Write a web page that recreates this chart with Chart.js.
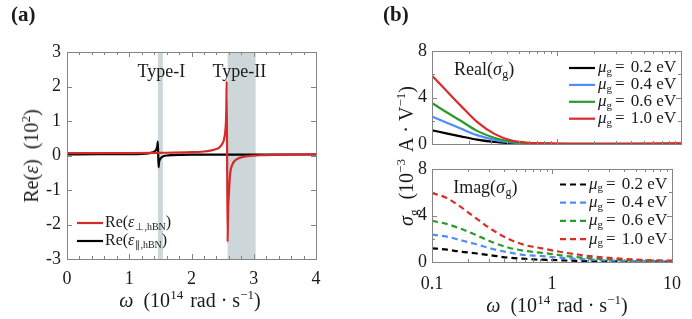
<!DOCTYPE html>
<html>
<head>
<meta charset="utf-8">
<script src="https://cdn.jsdelivr.net/npm/chart.js@4.4.0/dist/chart.umd.min.js"></script>
<style>
  body { margin: 0; background: #fff; }
  #wrap { position: relative; width: 692px; height: 319px; font-family: 'Liberation Serif', serif; color: #1a1a1a; }
  canvas { position: absolute; }
  .t { position: absolute; white-space: nowrap; font-size: 20px; line-height: 1; transform: translate(-50%, -50%); }
  .rot { transform: translate(-50%, -50%) rotate(-90deg); }
  .t sup { font-size: 13px; vertical-align: 8px; line-height: 0; }
  .t sub { font-size: 13px; vertical-align: -5px; line-height: 0; }
  .t .g1 { margin-left: 10px; }
  .t .g2 { margin-left: 7px; }
  .t .g3 { margin: 0 5px; }
  .panel { position: absolute; font-weight: bold; font-size: 21px; line-height: 1; }
</style>
</head>
<body>
<div id="wrap">
  <canvas id="chartA" width="346" height="319" style="left:0;top:0"></canvas>
  <canvas id="chartB1" width="346" height="160" style="left:346px;top:0"></canvas>
  <canvas id="chartB2" width="346" height="169" style="left:346px;top:150px"></canvas>

  <div class="panel" style="left:11px;top:4px">(a)</div>
  <div class="panel" style="left:383px;top:4px">(b)</div>
  <div class="t" style="left:190px;top:300px"><i>ω</i><span class="g1">(10<sup>14</sup></span><span class="g2">rad</span><span class="g3">·</span>s<sup>−1</sup>)</div>
  <div class="t rot" style="left:31px;top:156px">Re(<i>ε</i>)<span class="g1">(10<sup>2</sup>)</span></div>
  <div class="t" style="left:557px;top:305px"><i>ω</i><span class="g1">(10<sup>14</sup></span><span class="g2">rad</span><span class="g3">·</span>s<sup>−1</sup>)</div>
  <div class="t rot" style="left:406px;top:156px"><i>σ</i><sub>g</sub><span class="g1">(10<sup>−3</sup></span><span class="g2">A</span><span class="g3">·</span>V<sup>−1</sup>)</div>
</div>

<script>
// ---- panel (a): Re(eps) of hBN, in units of 10^2 ----
var omegaPerp = [0, 0.5, 1, 1.5, 2, 2.2, 2.3, 2.4, 2.45, 2.5, 2.52, 2.54, 2.55, 2.555, 2.56, 2.565,
                 2.58, 2.585, 2.59, 2.6, 2.62, 2.65, 2.7, 2.75, 2.8, 2.9, 3.0, 3.1, 3.3, 3.5, 4];
var epsPerp = [0.067, 0.068, 0.070, 0.077, 0.095, 0.116, 0.139, 0.186, 0.237, 0.352, 0.451, 0.650, 0.85, 1.05, 1.4, 2.15,
               -2.5, -1.9, -1.5, -1.13, -0.542, -0.287, -0.145, -0.087, -0.055, -0.021, -0.004, 0.007, 0.020, 0.027, 0.036];
var omegaPar = [0, 0.5, 1, 1.2, 1.3, 1.35, 1.4, 1.43, 1.45, 1.46, 1.47, 1.48, 1.5, 1.53, 1.56, 1.6, 1.7, 1.8, 2, 2.5, 3, 4];
var epsPar = [0.035, 0.036, 0.040, 0.047, 0.059, 0.077, 0.11, 0.16, 0.26, 0.40, -0.34, -0.18, -0.092, -0.04, -0.015, 0.0,
              0.012, 0.018, 0.023, 0.027, 0.028, 0.029];
var bands = [[1.46, 1.54], [2.58, 3.03]];
var bandNames = ['Type-I', 'Type-II'];
var xTicksA = [0, 1, 2, 3, 4];
var yTicksA = [-3, -2, -1, 0, 1, 2, 3];

// ---- panel (b): graphene conductivity, 10^-3 A/V ----
var omegaB = [0.1, 0.13, 0.17, 0.23, 0.32, 0.43, 0.6, 0.8, 1.0, 1.3, 1.9, 3.3, 5.6, 10];
var muG = ['0.2', '0.4', '0.6', '1.0'];
var realSigma = [
  [1.18, 0.92, 0.66, 0.38, 0.17, 0.07, 0.02, 0.01, 0.0, 0.0, 0.0, 0.0, 0.0, 0.01],
  [2.36, 1.85, 1.33, 0.76, 0.35, 0.13, 0.05, 0.02, 0.01, 0.01, 0.01, 0.01, 0.01, 0.02],
  [3.53, 2.75, 2.00, 1.13, 0.52, 0.20, 0.07, 0.03, 0.02, 0.01, 0.01, 0.01, 0.02, 0.03],
  [5.88, 4.60, 3.30, 1.90, 0.85, 0.32, 0.11, 0.05, 0.03, 0.02, 0.02, 0.02, 0.03, 0.05]
];
var imagSigma = [
  [1.18, 1.08, 0.90, 0.75, 0.55, 0.38, 0.27, 0.20, 0.17, 0.13, 0.08, 0.05, 0.03, 0.02],
  [2.35, 2.20, 1.90, 1.55, 1.12, 0.83, 0.60, 0.52, 0.43, 0.33, 0.22, 0.12, 0.08, 0.05],
  [3.54, 3.30, 2.90, 2.35, 1.70, 1.25, 0.95, 0.80, 0.68, 0.52, 0.36, 0.19, 0.11, 0.08],
  [5.93, 5.55, 4.80, 3.80, 2.75, 2.00, 1.45, 1.20, 1.00, 0.80, 0.55, 0.32, 0.18, 0.12]
];
var colorsB = ['#000000', '#4f8dfb', '#2b9a2b', '#dc2b2b'];
var xTicksB = [0.1, 1, 10];
var yTicksB = [0, 4, 8];

var serif = "'Liberation Serif', 'Times New Roman', serif";
var tickFont = { family: serif, size: 18 };
var ink = '#1a1a1a';

function pts(xs, ys) { return xs.map(function (x, i) { return { x: x, y: ys[i] }; }); }

// draws a run of text pieces (for sub/superscripts)
function rich(ctx, x, y, parts) {
  ctx.textBaseline = 'middle';
  ctx.textAlign = 'left';
  parts.forEach(function (p) {
    ctx.font = p.f;
    ctx.fillText(p.t, x, y + (p.dy || 0));
    x += ctx.measureText(p.t).width + (p.sp || 0);
  });
}

// box frame + inward ticks on all four sides
var frameTicks = {
  id: 'frameTicks',
  afterDraw: function (chart, args, o) {
    var ctx = chart.ctx, a = chart.chartArea, sx = chart.scales.x, sy = chart.scales.y;
    ctx.save();
    ctx.strokeStyle = '#858585';
    ctx.lineWidth = 1;
    ctx.beginPath();
    function xt(v, len) {
      var p = Math.round(sx.getPixelForValue(v)) + 0.5;
      ctx.moveTo(p, a.bottom); ctx.lineTo(p, a.bottom - len);
      ctx.moveTo(p, a.top); ctx.lineTo(p, a.top + len);
    }
    function yt(v, len) {
      var p = Math.round(sy.getPixelForValue(v)) + 0.5;
      ctx.moveTo(a.left, p); ctx.lineTo(a.left + len, p);
      ctx.moveTo(a.right, p); ctx.lineTo(a.right - len, p);
    }
    (o.xMajor || []).forEach(function (v) { xt(v, 5); });
    (o.xMinor || []).forEach(function (v) { xt(v, 3); });
    (o.yMajor || []).forEach(function (v) { yt(v, 5); });
    (o.yMinor || []).forEach(function (v) { yt(v, 3); });
    ctx.stroke();
    ctx.strokeRect(Math.round(a.left) + 0.5, Math.round(a.top) + 0.5, Math.round(a.width), Math.round(a.height));
    ctx.restore();
  }
};

// shaded bands and labels for panel (a)
var bandPlugin = {
  id: 'bandPlugin',
  beforeDatasetsDraw: function (chart) {
    var ctx = chart.ctx, a = chart.chartArea, sx = chart.scales.x;
    ctx.save();
    ctx.fillStyle = '#cdd6d8';
    bands.forEach(function (b) {
      var x0 = sx.getPixelForValue(b[0]), x1 = sx.getPixelForValue(b[1]);
      ctx.fillRect(x0, a.top, x1 - x0, a.height);
    });
    ctx.restore();
  },
  afterDatasetsDraw: function (chart) {
    var ctx = chart.ctx, sx = chart.scales.x, sy = chart.scales.y, a = chart.chartArea;
    ctx.save();
    ctx.fillStyle = ink;
    ctx.font = '18px ' + serif;
    ctx.textAlign = 'center';
    ctx.textBaseline = 'middle';
    ctx.fillText(bandNames[0], sx.getPixelForValue(1.517), sy.getPixelForValue(2.42));
    ctx.fillText(bandNames[1], sx.getPixelForValue(2.77), sy.getPixelForValue(2.42));

    // legend
    var lx = a.left + 10, ly = [a.bottom - 36, a.bottom - 18];
    var cols = ['#d42a2a', '#000'];
    var subs = ['⊥,hBN', '∥,hBN'];
    cols.forEach(function (c, i) {
      ctx.strokeStyle = c; ctx.lineWidth = 2.2;
      ctx.beginPath(); ctx.moveTo(lx, ly[i]); ctx.lineTo(lx + 26, ly[i]); ctx.stroke();
      rich(ctx, lx + 28, ly[i], [
        { t: 'Re(', f: '16px ' + serif },
        { t: 'ε', f: 'italic 16px ' + serif, sp: 1 },
        { t: subs[i], f: '10px ' + serif, dy: 4 },
        { t: ')', f: '16px ' + serif }
      ]);
    });
    ctx.restore();
  }
};

new Chart(document.getElementById('chartA'), {
  type: 'line',
  data: {
    datasets: [
      { data: pts(omegaPerp, epsPerp), borderColor: '#d42a2a', borderWidth: 2.2, pointRadius: 0, cubicInterpolationMode: 'monotone', order: 1 },
      { data: pts(omegaPar, epsPar), borderColor: '#000000', borderWidth: 2.2, pointRadius: 0, cubicInterpolationMode: 'monotone', order: 2 }
    ]
  },
  options: {
    responsive: false,
    animation: false,
    layout: { padding: { left: 0, top: 52, right: 30, bottom: 0 } },
    plugins: {
      legend: { display: false }, tooltip: { enabled: false },
      frameTicks: {
        xMajor: xTicksA, yMajor: yTicksA,
        xMinor: [0.2, 0.4, 0.6, 0.8, 1.2, 1.4, 1.6, 1.8, 2.2, 2.4, 2.6, 2.8, 3.2, 3.4, 3.6, 3.8]
      }
    },
    scales: {
      x: {
        type: 'linear', min: 0, max: 4,
        afterBuildTicks: function (s) { s.ticks = xTicksA.map(function (v) { return { value: v }; }); },
        afterFit: function (s) { s.height = 60; },
        ticks: { font: tickFont, color: ink, padding: 9, maxRotation: 0 },
        grid: { display: false, drawTicks: false }, border: { display: false }
      },
      y: {
        min: -3, max: 3,
        afterBuildTicks: function (s) { s.ticks = yTicksA.map(function (v) { return { value: v }; }); },
        afterFit: function (s) { s.width = 67; },
        ticks: { font: tickFont, color: ink, padding: 6 },
        grid: { display: false, drawTicks: false }, border: { display: false }
      }
    }
  },
  plugins: [bandPlugin, frameTicks]
});

// ---- panel (b) ----
var logMinor = [0.2, 0.3, 0.4, 0.5, 0.6, 0.7, 0.8, 0.9, 2, 3, 4, 5, 6, 7, 8, 9];

function legendB(title, dashed, rowStart, rowStep) {
  return {
    id: 'legendB',
    afterDatasetsDraw: function (chart) {
      var ctx = chart.ctx, a = chart.chartArea, sx = chart.scales.x, sy = chart.scales.y;
      ctx.save();
      ctx.fillStyle = ink;
      rich(ctx, sx.getPixelForValue(0.15), sy.getPixelForValue(6.3), [
        { t: title + '(', f: '18px ' + serif },
        { t: 'σ', f: 'italic 18px ' + serif, sp: 0.5 },
        { t: 'g', f: '12px ' + serif, dy: 4 },
        { t: ')', f: '18px ' + serif }
      ]);
      muG.forEach(function (m, i) {
        var y = a.top + rowStart + i * rowStep;
        var x0 = a.right - 112;
        ctx.strokeStyle = colorsB[i]; ctx.lineWidth = 2.2;
        ctx.setLineDash(dashed ? [6, 4] : []);
        ctx.beginPath(); ctx.moveTo(x0, y); ctx.lineTo(x0 + 26, y); ctx.stroke();
        ctx.setLineDash([]);
        rich(ctx, x0 + 29, y, [
          { t: 'μ', f: 'italic 17px ' + serif },
          { t: 'g', f: '11px ' + serif, dy: 4, sp: 3 },
          { t: '= ', f: '17px ' + serif, sp: 2 },
          { t: m + ' eV', f: '17px ' + serif }
        ]);
      });
      ctx.restore();
    }
  };
}

function optsB(showX, pad, xh) {
  return {
    responsive: false,
    animation: false,
    layout: { padding: pad },
    plugins: {
      legend: { display: false }, tooltip: { enabled: false },
      frameTicks: { xMajor: xTicksB, xMinor: logMinor, yMajor: yTicksB, yMinor: [2, 6] }
    },
    scales: {
      x: {
        type: 'logarithmic', min: 0.1, max: 10, display: showX,
        afterBuildTicks: function (s) { s.ticks = xTicksB.map(function (v) { return { value: v }; }); },
        afterFit: function (s) { if (showX) s.height = xh; },
        ticks: { font: tickFont, color: ink, padding: 11, maxRotation: 0, callback: function (v) { return String(v); } },
        grid: { display: false, drawTicks: false }, border: { display: false }
      },
      y: {
        min: 0, max: 8,
        afterBuildTicks: function (s) { s.ticks = yTicksB.map(function (v) { return { value: v }; }); },
        afterFit: function (s) { s.width = 86; },
        ticks: { font: tickFont, color: ink, padding: 5 },
        grid: { display: false, drawTicks: false }, border: { display: false }
      }
    }
  };
}

function setsB(arr, dashed) {
  return arr.map(function (ys, i) {
    return {
      data: pts(omegaB, ys), borderColor: colorsB[i], borderWidth: 2.2, pointRadius: 0,
      cubicInterpolationMode: 'monotone', borderDash: dashed ? [6, 4] : [], order: 4 - i
    };
  });
}

new Chart(document.getElementById('chartB1'), {
  type: 'line',
  data: { datasets: setsB(realSigma, false) },
  options: optsB(false, { left: 0, top: 51, right: 11, bottom: 16 }, 0),
  plugins: [legendB('Real', false, 17, 16.9), frameTicks]
});

new Chart(document.getElementById('chartB2'), {
  type: 'line',
  data: { datasets: setsB(imagSigma, true) },
  options: optsB(true, { left: 0, top: 19, right: 11, bottom: 0 }, 57),
  plugins: [legendB('Imag', true, 15.5, 18.2), frameTicks]
});
</script>
</body>
</html>
